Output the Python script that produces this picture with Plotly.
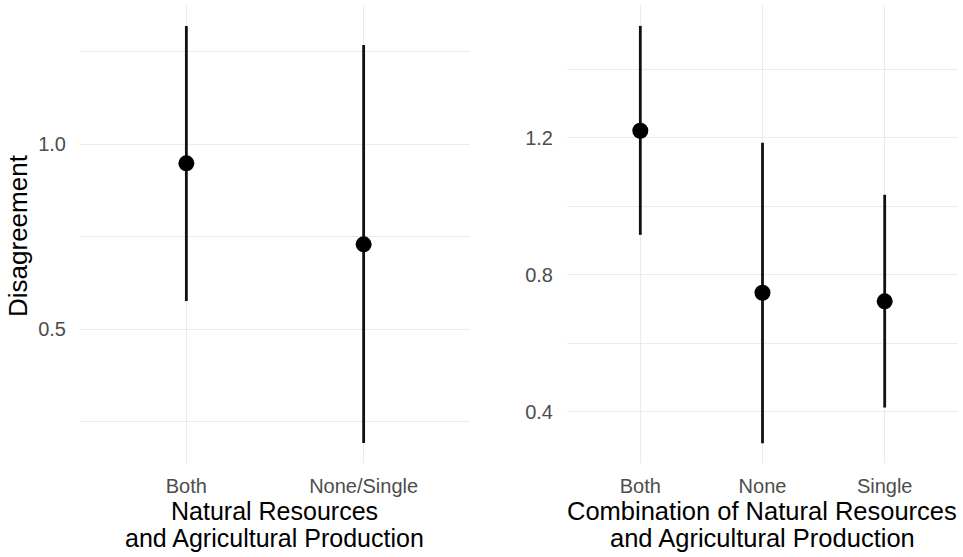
import plotly.graph_objects as go

# Left panel data
left_categories = ["Both", "None/Single"]
left_estimate = [0.948, 0.729]
left_lower = [0.576, 0.192]
left_upper = [1.319, 1.268]

# Right panel data
right_categories = ["Both", "None", "Single"]
right_estimate = [1.220, 0.747, 0.722]
right_lower = [0.916, 0.308, 0.412]
right_upper = [1.526, 1.185, 1.033]

y_title = "Disagreement"
left_x_title = ["Natural Resources", "and Agricultural Production"]
right_x_title = ["Combination of Natural Resources", "and Agricultural Production"]

FONT = "Liberation Sans, Arial, sans-serif"
GRID = "#EBEBEB"
TICKCOL = "#4D4D4D"

W, H = 963, 557


def px_x(p):
    return p / W


def px_y(p):
    return 1 - p / H


fig = go.Figure()


def add_panel(cats, est, lo, hi, xa, ya):
    fig.add_trace(go.Scatter(
        x=cats, y=est, mode="markers",
        marker=dict(color="black", size=16),
        error_y=dict(type="data", symmetric=False,
                     array=[h - e for h, e in zip(hi, est)],
                     arrayminus=[e - l for e, l in zip(est, lo)],
                     width=0, thickness=2.8, color="#111111"),
        xaxis=xa, yaxis=ya, showlegend=False, hoverinfo="skip",
    ))


add_panel(left_categories, left_estimate, left_lower, left_upper, "x", "y")
add_panel(right_categories, right_estimate, right_lower, right_upper, "x2", "y2")

ydom = [px_y(463), px_y(5)]

common_x = dict(type="category", showgrid=True, gridcolor=GRID, gridwidth=1.2,
                zeroline=False, showline=False, ticks="outside", ticklen=5,
                tickcolor="rgba(0,0,0,0)",
                tickfont=dict(family=FONT, size=20, color=TICKCOL))
common_y = dict(showgrid=True, gridcolor=GRID, gridwidth=1.2, zeroline=False,
                showline=False, ticks="outside", ticklen=9,
                tickcolor="rgba(0,0,0,0)", tickformat=".1f",
                tickfont=dict(family=FONT, size=20, color=TICKCOL))

fig.update_layout(
    width=W, height=H,
    margin=dict(l=0, r=0, t=0, b=0),
    paper_bgcolor="white", plot_bgcolor="white",
    xaxis=dict(common_x, domain=[px_x(80), px_x(470)], range=[-0.6, 1.6], anchor="y"),
    yaxis=dict(common_y, domain=ydom, range=[0.138, 1.376], tick0=0, dtick=0.5,
               minor=dict(tick0=0.25, dtick=0.5, showgrid=True, gridcolor=GRID, gridwidth=1.0),
               anchor="x"),
    xaxis2=dict(common_x, domain=[px_x(567), px_x(958)], range=[-0.6, 2.6], anchor="y2"),
    yaxis2=dict(common_y, domain=ydom, range=[0.25, 1.587], tick0=0, dtick=0.4,
                minor=dict(tick0=0.2, dtick=0.4, showgrid=True, gridcolor=GRID, gridwidth=1.0),
                anchor="x2"),
)

ann = []
for i, line in enumerate(left_x_title):
    ann.append(dict(text=line, x=px_x(274), y=px_y(511 + 27 * i), xref="paper", yref="paper",
                    xanchor="center", yanchor="middle", showarrow=False,
                    font=dict(family=FONT, size=25, color="black")))
for i, line in enumerate(right_x_title):
    ann.append(dict(text=line, x=px_x(762), y=px_y(511 + 27 * i), xref="paper", yref="paper",
                    xanchor="center", yanchor="middle", showarrow=False,
                    font=dict(family=FONT, size=25.5, color="black")))
ann.append(dict(text=y_title, x=px_x(18), y=px_y(236), xref="paper", yref="paper",
                xanchor="center", yanchor="middle", showarrow=False, textangle=-90,
                font=dict(family=FONT, size=26, color="black")))
fig.update_layout(annotations=ann)

fig.write_html("out.html", config={"displayModeBar": False},
               post_script="document.body.style.margin='0';document.body.style.overflow='hidden';")
